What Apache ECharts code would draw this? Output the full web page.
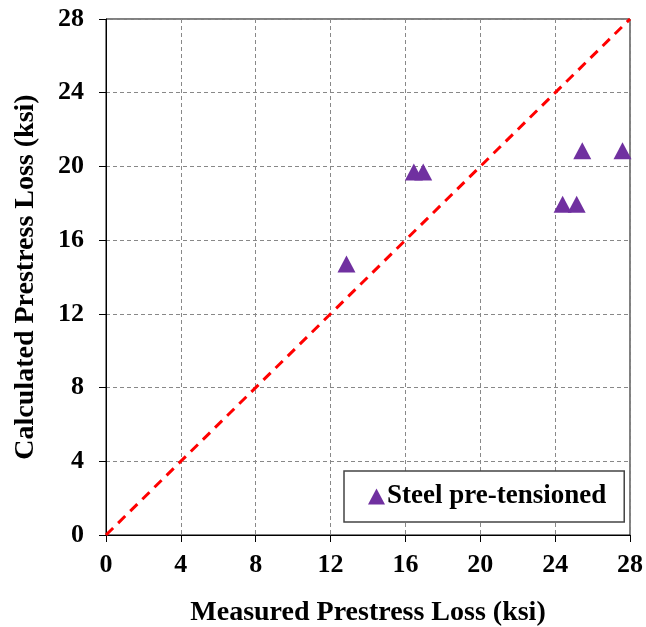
<!DOCTYPE html>
<html><head><meta charset="utf-8">
<script src="https://cdn.jsdelivr.net/npm/echarts@6/dist/echarts.min.js"></script>
<style>html,body{margin:0;padding:0;background:#fff}#c{width:646px;height:627px}</style>
</head><body><div id="c"></div>
<script>
var measured = [12.85, 16.45, 16.95, 24.4, 25.15, 25.45, 27.6];
var calculated = [14.7, 19.7, 19.7, 17.95, 17.95, 20.85, 20.85];
var lineX = [0, 28];
var lineY = [0, 28];
var tickInterval = 4;
var axisMin = 0, axisMax = 28;
var seriesName = 'Steel pre-tensioned';
var xTitle = 'Measured Prestress Loss (ksi)';
var yTitle = 'Calculated Prestress Loss (ksi)';

var font = 'Liberation Serif';
var chart = echarts.init(document.getElementById('c'));
var pts = measured.map(function(v,i){return [v, calculated[i]];});
var diag = lineX.map(function(v,i){return [v, lineY[i]];});
var axisCommon = {
  type:'value', min:axisMin, max:axisMax, interval:tickInterval,
  nameLocation:'middle',
  nameTextStyle:{fontFamily:font, fontWeight:'bold', fontSize:28, color:'#000'},
  axisLine:{show:true, lineStyle:{color:'#000', width:1}},
  axisTick:{show:true, inside:false, length:7, lineStyle:{color:'#000'}},
  axisLabel:{fontFamily:font, fontWeight:'bold', fontSize:26, color:'#000'},
  splitLine:{show:true, lineStyle:{color:'#888', type:[4,3], width:1}}
};
chart.setOption({
  animation:false,
  grid:{left:106, right:16, top:19, bottom:92, show:true, borderColor:'#000', borderWidth:1, outerBoundsMode:'none', containLabel:false},
  xAxis:Object.assign({}, axisCommon, {name:xTitle, nameGap:64, axisLabel:Object.assign({}, axisCommon.axisLabel, {margin:17})}),
  yAxis:Object.assign({}, axisCommon, {name:yTitle, nameGap:66, axisLabel:Object.assign({}, axisCommon.axisLabel, {margin:22})}),
  legend:{
    left:344, top:471, orient:'horizontal',
    padding:[12,18,12,24], itemWidth:17, itemHeight:16, itemGap:10,
    borderColor:'#444', borderWidth:1.5, backgroundColor:'#fff',
    textStyle:{fontFamily:font, fontWeight:'bold', fontSize:27, color:'#000', padding:[0,0,0,-3]},
    data:[{name:seriesName, icon:'triangle', itemStyle:{color:'#7030a0', opacity:1}}]
  },
  series:[
    {type:'line', data:diag, symbol:'none', silent:true,
     lineStyle:{color:'#ff0000', width:3, type:[10,7]}, z:3},
    {type:'scatter', name:seriesName, data:pts, symbol:'triangle', symbolSize:[18,17],
     itemStyle:{color:'#7030a0', opacity:1}, z:4}
  ]
});
</script></body></html>
